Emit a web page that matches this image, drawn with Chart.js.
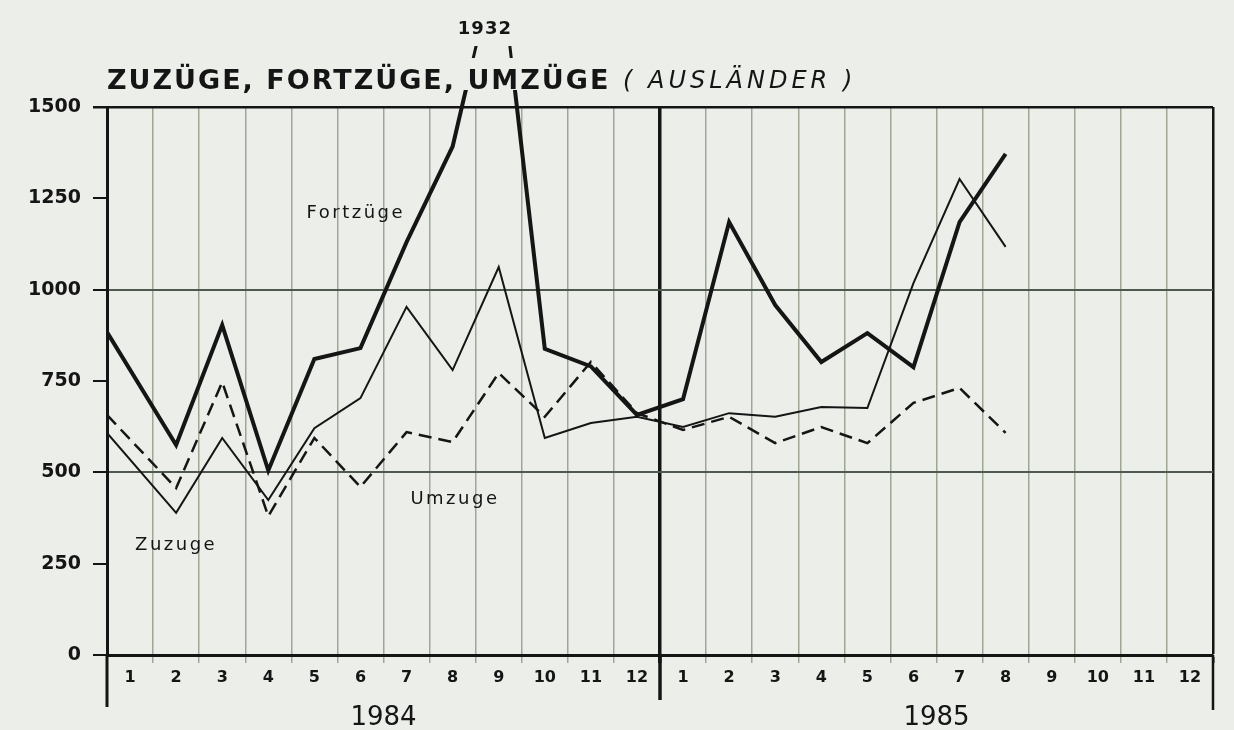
<!DOCTYPE html>
<html>
<head>
<meta charset="utf-8">
<script src="https://cdn.jsdelivr.net/npm/chart.js@4.4.1/dist/chart.umd.min.js"></script>
<style>
  html, body { margin: 0; padding: 0; background: #eceeea; }
  #wrap { width: 1234px; height: 730px; position: relative; }
</style>
</head>
<body>
<div id="wrap"><canvas id="chart"></canvas></div>
<script>
// Zuzüge, Fortzüge, Umzüge (Ausländer) - monthly, Jan 1984 to Aug 1985
const monthLabels = ['1', '2', '3', '4', '5', '6', '7', '8', '9', '10', '11', '12',
                     '1', '2', '3', '4', '5', '6', '7', '8', '9', '10', '11', '12'];
const yearLabels = ['1984', '1985'];
const yTicks = [0, 250, 500, 750, 1000, 1250, 1500];

// values, Jan 84 .. Aug 85
const fortzuege = [884, 575, 903, 505, 810, 840, 1130, 1392, 1932, 838, 790, 657,
                   700, 1185, 958, 802, 881, 788, 1185, 1372];
const zuzuege   = [608, 389, 594, 424, 621, 703, 953, 780, 1062, 594, 635, 652,
                   624, 662, 652, 679, 676, 1018, 1303, 1117];
const umzuege   = [657, 457, 747, 380, 594, 460, 610, 583, 772, 652, 802, 662,
                   616, 652, 580, 624, 580, 690, 731, 608];

const ink = '#151515';
const gridGrey = '#9ea796';

// first value sits on the left axis, the others mid-month
const toPoints = values => values.map((v, i) => ({ x: i === 0 ? 0 : i + 0.5, y: v }));

// text written inside the plot (data coordinates)
const notes = [
  { text: 'Fortzüge', x: 5.4, y: 1210 },
  { text: 'Umzuge', x: 7.55, y: 427 },
  { text: 'Zuzuge', x: 1.5, y: 300 }
];
const peakNote = { x: 8.2, y: 1712 };

const decor = {
  id: 'decor',
  beforeDraw(chart) {
    const { ctx, width, height } = chart;
    ctx.save();
    ctx.fillStyle = '#eceeea';
    ctx.fillRect(0, 0, width, height);
    ctx.restore();
  },
  afterDatasetsDraw(chart) {
    // short pieces of the Fortzüge line above the title (broken peak)
    const { ctx, chartArea } = chart;
    const pts = chart.getDatasetMeta(0).data;
    ctx.save();
    ctx.beginPath();
    ctx.rect(chartArea.left, 46, chartArea.width, 12);
    ctx.clip();
    ctx.beginPath();
    pts.forEach((p, i) => i ? ctx.lineTo(p.x, p.y) : ctx.moveTo(p.x, p.y));
    ctx.lineWidth = 3;
    ctx.strokeStyle = ink;
    ctx.stroke();
    ctx.restore();
  },
  afterDraw(chart) {
    const { ctx, chartArea, scales: { x, y } } = chart;
    ctx.save();
    ctx.strokeStyle = ink;

    // axis lines running down past the month labels
    [[0, 3, 52], [12, 3.5, 45], [24, 2.5, 55]].forEach(([v, w, len]) => {
      const px = x.getPixelForValue(v);
      ctx.lineWidth = w;
      ctx.beginPath();
      ctx.moveTo(px, chartArea.bottom);
      ctx.lineTo(px, chartArea.bottom + len);
      ctx.stroke();
    });

    // title
    ctx.fillStyle = ink;
    ctx.textBaseline = 'alphabetic';
    ctx.textAlign = 'left';
    ctx.letterSpacing = '2px';
    ctx.font = 'bold 27px "DejaVu Sans"';
    ctx.fillText('ZUZÜGE, FORTZÜGE, UMZÜGE', chartArea.left, chartArea.top - 18);
    ctx.letterSpacing = '4px';
    ctx.font = 'oblique 24px "DejaVu Sans"';
    ctx.fillText('( AUSLÄNDER )', chartArea.left + 516, chartArea.top - 19);

    // series names
    ctx.letterSpacing = '2.5px';
    ctx.font = '18px "DejaVu Sans"';
    ctx.textAlign = 'center';
    ctx.textBaseline = 'middle';
    notes.forEach(n => ctx.fillText(n.text, x.getPixelForValue(n.x), y.getPixelForValue(n.y)));

    // value of the clipped peak
    ctx.letterSpacing = '1px';
    ctx.font = 'bold 18px "DejaVu Sans"';
    ctx.fillText(String(Math.max(...fortzuege)), x.getPixelForValue(peakNote.x), y.getPixelForValue(peakNote.y));
    ctx.restore();
  }
};

new Chart(document.getElementById('chart'), {
  type: 'line',
  data: {
    datasets: [
      {
        label: 'Fortzüge',
        data: toPoints(fortzuege),
        borderColor: ink,
        borderWidth: 4,
        pointRadius: 0,
        tension: 0,
        clip: { left: 0, top: 17, right: 0, bottom: 0 }
      },
      {
        label: 'Zuzüge',
        data: toPoints(zuzuege),
        borderColor: ink,
        borderWidth: 2,
        pointRadius: 0,
        tension: 0
      },
      {
        label: 'Umzüge',
        data: toPoints(umzuege),
        borderColor: ink,
        borderWidth: 2.5,
        borderDash: [13, 7],
        pointRadius: 0,
        tension: 0
      }
    ]
  },
  options: {
    responsive: true,
    maintainAspectRatio: false,
    animation: false,
    events: [],
    layout: { padding: { top: 107, right: 21, left: 0, bottom: 0 } },
    plugins: { legend: { display: false }, tooltip: { enabled: false } },
    scales: {
      x: {
        type: 'linear',
        min: 0,
        max: 24,
        weight: 0,
        afterBuildTicks: axis => { axis.ticks = Array.from({ length: 25 }, (_, i) => ({ value: i })); },
        afterFit: s => { s.height = 10; },
        ticks: { display: false },
        grid: {
          color: c => c.tick.value === 0 ? 'rgba(0,0,0,0)' : (c.tick.value % 12 === 0 ? ink : gridGrey),
          lineWidth: c => c.tick.value === 12 ? 3.5 : (c.tick.value === 24 ? 2.5 : 1.5),
          tickLength: 8
        },
        border: { display: true, color: ink, width: 3 }
      },
      xm: {
        type: 'linear',
        position: 'bottom',
        min: 0,
        max: 24,
        weight: 1,
        afterBuildTicks: axis => { axis.ticks = monthLabels.map((m, i) => ({ value: i + 0.5 })); },
        afterFit: s => { s.height = 38; },
        ticks: {
          autoSkip: false,
          maxRotation: 0,
          padding: 3,
          color: ink,
          font: { family: 'DejaVu Sans', size: 16, weight: 'bold' },
          callback: (v, i) => monthLabels[i]
        },
        grid: { display: false, drawTicks: false },
        border: { display: false }
      },
      xy: {
        type: 'linear',
        position: 'bottom',
        min: 0,
        max: 24,
        weight: 2,
        afterBuildTicks: axis => { axis.ticks = yearLabels.map((m, i) => ({ value: 6 + i * 12 })); },
        afterFit: s => { s.height = 27; },
        ticks: {
          autoSkip: false,
          maxRotation: 0,
          padding: 0,
          color: ink,
          font: { family: 'DejaVu Sans', size: 26 },
          callback: (v, i) => yearLabels[i]
        },
        grid: { display: false, drawTicks: false },
        border: { display: false }
      },
      y: {
        type: 'linear',
        min: 0,
        max: 1500,
        afterBuildTicks: axis => { axis.ticks = yTicks.map(v => ({ value: v })); },
        afterFit: s => { s.width = 107; },
        ticks: {
          padding: 12,
          color: ink,
          font: { family: 'DejaVu Sans', size: 19, weight: 'bold' },
          callback: v => String(v)
        },
        grid: {
          color: c => c.tick.value === 1500 ? ink : (c.tick.value % 500 === 0 ? '#4f584d' : 'rgba(0,0,0,0)'),
          tickColor: ink,
          lineWidth: c => c.tick.value === 1500 ? 2.5 : 2,
          tickLength: 14
        },
        border: { display: true, color: ink, width: 3 }
      }
    }
  },
  plugins: [decor]
});
</script>
</body>
</html>
